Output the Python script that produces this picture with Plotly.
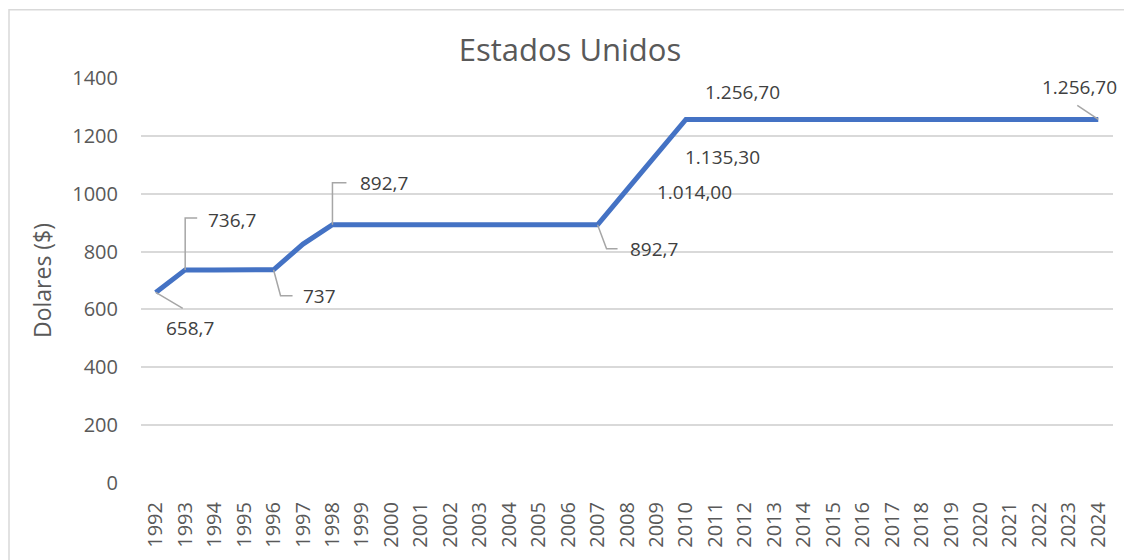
import plotly.graph_objects as go

years = list(range(1992, 2025))
salario = [658.7, 736.7, 736.7, 736.7, 737.0, 826.0, 892.7, 892.7, 892.7, 892.7,
           892.7, 892.7, 892.7, 892.7, 892.7, 892.7, 1014.0, 1135.3, 1256.7, 1256.7,
           1256.7, 1256.7, 1256.7, 1256.7, 1256.7, 1256.7, 1256.7, 1256.7, 1256.7, 1256.7,
           1256.7, 1256.7, 1256.7]

# labelled points
label_years = [1992, 1993, 1996, 1998, 2007, 2008, 2009, 2010, 2024]
label_texts = ["658,7", "736,7", "737", "892,7", "892,7", "1.014,00", "1.135,30", "1.256,70", "1.256,70"]
label_dx = [34, 47, 46, 52, 56, 67, 66, 57, -19]
label_dy = [-36, 50, -26, 42, -24, -2, -2, 27, 32]
leaders = ["M0,0 L27,-16", "M0,0 L0,52 L12,52", "M0,0 L7,-26 L19,-26", "M0,0 L0,42 L14,42",
           "M0,0 L9,-24 L20,-24", None, None, None, "M0,0 L-21,14"]

FONT = "Open Sans"
fig = go.Figure()
fig.add_trace(go.Scatter(x=years, y=salario, mode="lines",
                         line=dict(color="#4472C4", width=5), hoverinfo="x+y"))

val = dict(zip(years, salario))
for yr, txt, dx, dy, lp in zip(label_years, label_texts, label_dx, label_dy, leaders):
    fig.add_annotation(x=yr, y=val[yr], text=txt, showarrow=False, xshift=dx, yshift=dy,
                       font=dict(family=FONT, size=19, color="#404040"))
    if lp:
        fig.add_shape(type="path", xref="x", yref="y", xsizemode="pixel", ysizemode="pixel",
                      xanchor=yr, yanchor=val[yr], path=lp,
                      line=dict(color="#A6A6A6", width=1.5))

# chart border (bottom edge lies below the visible area)
fig.add_shape(type="rect", xref="paper", yref="paper", x0=-0.1358, x1=1.0165, y0=-0.25, y1=1.1687,
              line=dict(color="#D9D9D9", width=1.5), layer="below")

fig.update_layout(
    width=1124, height=552,
    margin=dict(l=133, r=19, t=70, b=73),
    paper_bgcolor="white", plot_bgcolor="white",
    showlegend=False,
    title=dict(text="Estados Unidos", x=0.5, xanchor="center", y=0.924, yanchor="middle",
               font=dict(family=FONT, size=31, color="#595959")),
    font=dict(family=FONT, color="#595959"),
)
fig.update_xaxes(range=[1991.5, 2024.5], tickmode="array", tickvals=years,
                 ticktext=[str(y) for y in years], tickangle=-90,
                 tickfont=dict(family=FONT, size=20, color="#595959"),
                 showgrid=False, zeroline=False, showline=False,
                 ticks="outside", ticklen=10, tickcolor="rgba(0,0,0,0)")
fig.update_yaxes(range=[0, 1400], dtick=200, showgrid=True, gridcolor="#D9D9D9", gridwidth=1.5,
                 zeroline=False, showline=False,
                 ticks="outside", ticklen=18, tickcolor="rgba(0,0,0,0)",
                 tickfont=dict(family=FONT, size=20, color="#595959"),
                 title=dict(text="Dolares ($)", font=dict(family=FONT, size=23, color="#595959"),
                            standoff=14))

fig.write_html("out.html")
